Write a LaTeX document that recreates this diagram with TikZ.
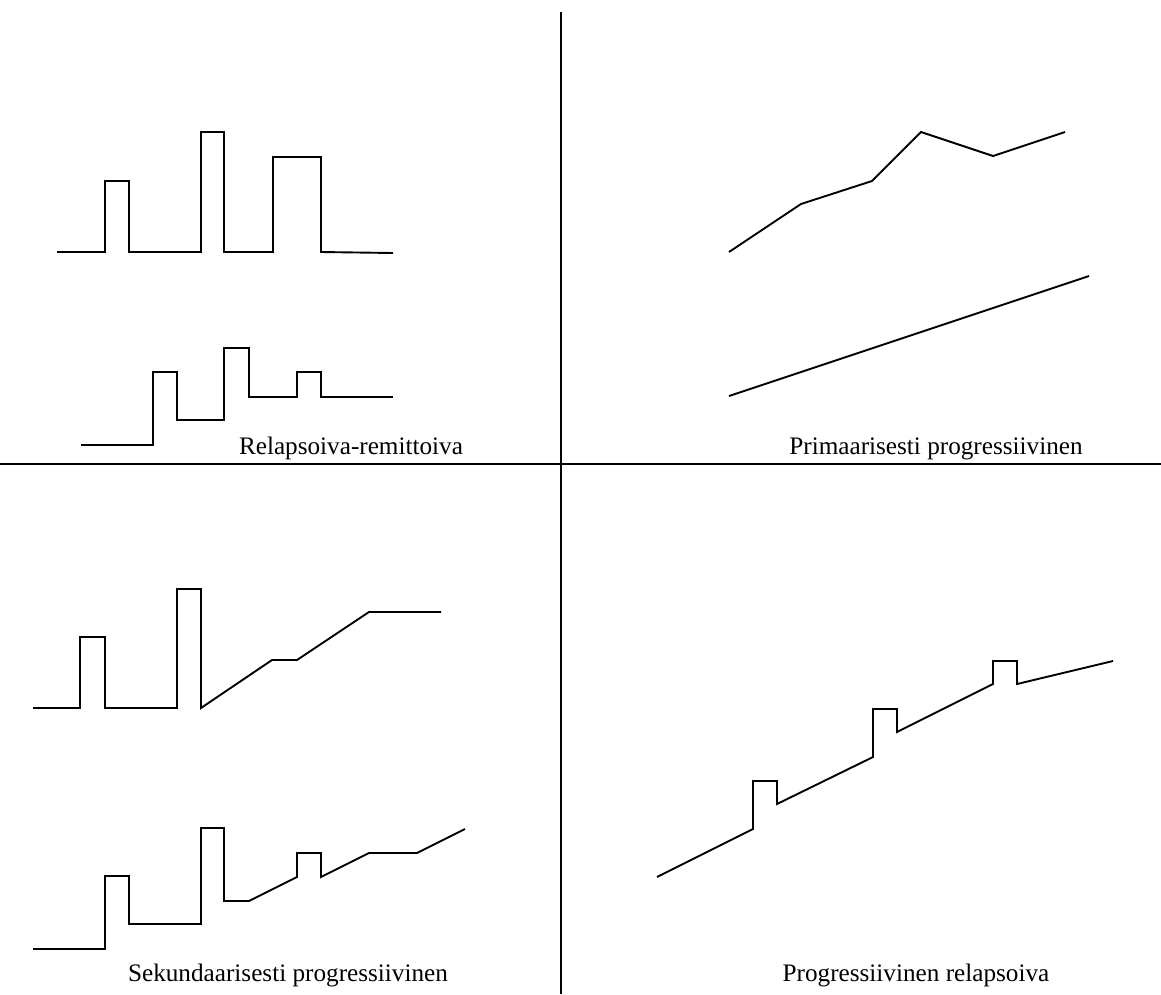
\documentclass[tikz,border=0pt]{standalone}
\usepackage{fontspec}
\setmainfont{Liberation Serif}
\usepackage{tikz}

\begin{document}
\begin{tikzpicture}[x=1pt,y=-1pt,
        curve/.style={line width=1.9pt, line join=miter},
        axis/.style={line width=2pt},
        caption/.style={anchor=base, inner sep=0pt, font=\fontsize{25.2}{30}\selectfont}]
        \useasboundingbox (0,0) rectangle (1161,994);
        % axes
        \coordinate (n) at (561,12);
        \coordinate (s) at (561,994);
        \coordinate (w) at (0,464);
        \coordinate (e) at (1161,464);
        \draw[axis] (n) -- (s);
        \draw[axis] (w) -- (e);
        % captions
        \node (t0) [caption] at (351,454) {Relapsoiva-remittoiva};
        \node (t1) [caption] at (936,454) {Primaarisesti progressiivinen};
        \node (t2) [caption] at (288,981) {Sekundaarisesti progressiivinen};
        \node (t3) [caption] at (916,981) {Progressiivinen relapsoiva};
        % top left
        \draw[curve] (57,252) -- (105,252) -- (105,181) -- (129,181) -- (129,252)
                -- (201,252) -- (201,132) -- (224,132) -- (224,252)
                -- (273,252) -- (273,157) -- (321,157) -- (321,252) -- (393,253);
        \draw[curve] (81,445) -- (153,445) -- (153,372) -- (177,372) -- (177,420)
                -- (224,420) -- (224,348) -- (249,348) -- (249,397)
                -- (297,397) -- (297,372) -- (321,372) -- (321,397) -- (393,397);
        % top right
        \draw[curve] (729,252) -- (801,204) -- (872,181) -- (921,132) -- (993,156) -- (1065,132);
        \draw[curve] (729,396) -- (1089,276);
        % bottom left
        \draw[curve] (33,708) -- (80,708) -- (80,637) -- (105,637) -- (105,708)
                -- (177,708) -- (177,589) -- (201,589) -- (201,708)
                -- (272,660) -- (297,660) -- (369,612) -- (441,612);
        \draw[curve] (33,949) -- (105,949) -- (105,876) -- (129,876) -- (129,924)
                -- (201,924) -- (201,828) -- (224,828) -- (224,901) -- (249,901)
                -- (297,877) -- (297,853) -- (321,853) -- (321,877)
                -- (369,853) -- (417,853) -- (465,829);
        % bottom right
        \draw[curve] (657,877) -- (753,829) -- (753,781) -- (777,781) -- (777,804)
                -- (873,757) -- (873,709) -- (897,709) -- (897,732)
                -- (993,684) -- (993,661) -- (1017,661) -- (1017,684) -- (1113,661);
\end{tikzpicture}
\end{document}
